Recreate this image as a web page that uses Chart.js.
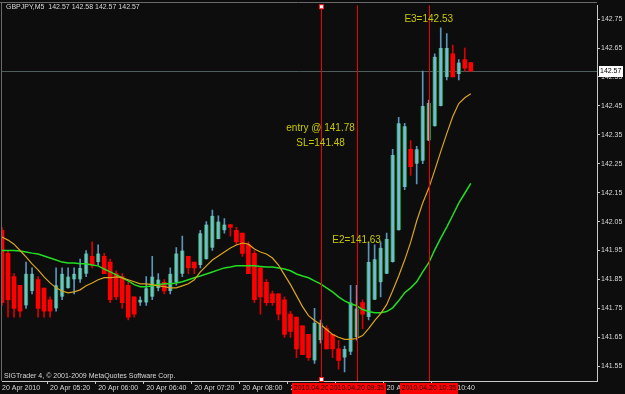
<!DOCTYPE html>
<html lang="en">
<head>
<meta charset="UTF-8">
<title>GBPJPY,M5</title>
<script src="https://cdn.jsdelivr.net/npm/chart.js"></script>
<style>
  html, body { margin: 0; padding: 0; background: #0d0d0d; }
  #wrap { width: 625px; height: 394px; }
</style>
</head>
<body>
<div id="wrap"><canvas id="chart" width="625" height="394"></canvas></div>
<script>
// 5 minute bars, 20 Apr 2010
const times = [
  '04:40','04:45','04:50','04:55',
  '05:00','05:05','05:10','05:15','05:20','05:25','05:30','05:35','05:40','05:45','05:50','05:55',
  '06:00','06:05','06:10','06:15','06:20','06:25','06:30','06:35','06:40','06:45','06:50','06:55',
  '07:00','07:05','07:10','07:15','07:20','07:25','07:30','07:35','07:40','07:45','07:50','07:55',
  '08:00','08:05','08:10','08:15','08:20','08:25','08:30','08:35','08:40','08:45','08:50','08:55',
  '09:00','09:05','09:10','09:15','09:20','09:25','09:30','09:35','09:40','09:45','09:50','09:55',
  '10:00','10:05','10:10','10:15','10:20','10:25','10:30','10:35','10:40','10:45','10:50','10:55',
  '11:00','11:05','11:10'
];

const openP = [
  142.02,141.94,141.86,141.83,141.76,141.81,141.85,141.82,141.78,141.75,
  141.79,141.82,141.85,141.85,141.87,141.93,141.91,141.93,141.91,141.87,
  141.86,141.83,141.79,141.77,141.77,141.79,141.82,141.84,141.81,141.84,
  141.87,141.93,141.91,141.90,141.92,141.96,141.99,142.02,142.04,142.02,
  142.01,141.97,141.94,141.89,141.84,141.80,141.80,141.78,141.73,141.72,
  141.69,141.66,141.57,141.64,141.68,141.66,141.61,141.58,141.60,141.65,
  141.77,141.72,141.78,141.84,141.87,141.91,142.02,142.17,142.30,142.25,
  142.26,142.33,142.38,142.45,142.55,142.63,142.56,142.61,142.60
];
const highP = [
  142.03,141.95,141.87,141.83,141.91,141.89,141.86,141.82,141.79,141.89,
  141.89,141.89,141.89,141.92,141.95,141.98,141.97,141.94,141.92,141.88,
  141.87,141.84,141.79,141.79,141.86,141.93,141.87,141.85,141.89,141.96,
  142.00,141.93,141.91,142.02,142.05,142.09,142.07,142.06,142.04,142.03,
  142.01,141.98,141.95,141.89,141.85,141.81,141.80,141.79,141.74,141.72,
  141.69,141.66,141.75,141.71,141.69,141.66,141.64,141.62,141.83,141.83,
  141.78,141.98,141.97,141.98,142.01,142.30,142.41,142.39,142.33,142.31,
  142.57,142.47,142.63,142.72,142.70,142.66,142.61,142.65,142.60
];
const lowP = [
  141.76,141.72,141.72,141.72,141.75,141.80,141.72,141.72,141.72,141.74,
  141.78,141.82,141.80,141.84,141.86,141.89,141.90,141.87,141.77,141.78,
  141.75,141.71,141.72,141.76,141.76,141.78,141.81,141.80,141.80,141.83,
  141.86,141.87,141.87,141.89,141.92,141.95,141.99,142.01,142.00,141.97,
  141.93,141.87,141.77,141.73,141.76,141.76,141.71,141.65,141.65,141.58,
  141.59,141.57,141.56,141.63,141.61,141.58,141.54,141.53,141.59,141.64,
  141.68,141.71,141.78,141.79,141.87,141.91,142.02,142.16,142.21,142.18,
  142.25,142.33,142.38,142.45,142.54,142.55,142.54,142.57,142.57
];
const closeP = [
  141.77,141.78,141.75,141.74,141.87,141.87,141.75,141.74,141.74,141.83,
  141.87,141.86,141.87,141.89,141.94,141.90,141.94,141.87,141.78,141.79,
  141.77,141.72,141.73,141.78,141.82,141.86,141.85,141.81,141.87,141.94,
  141.95,141.89,141.89,142.01,142.04,142.07,142.05,142.04,142.03,141.98,
  141.94,141.87,141.78,141.79,141.77,141.77,141.73,141.66,141.67,141.61,
  141.59,141.58,141.70,141.70,141.61,141.61,141.57,141.61,141.77,141.75,
  141.73,141.91,141.92,141.96,141.99,142.28,142.39,142.38,142.24,142.30,
  142.45,142.46,142.62,142.65,142.65,142.55,142.60,142.58,142.57
];

// fast (orange) and slow (green) moving averages
const fastMA = [
  141.997,141.986,141.972,141.950,141.928,141.904,141.883,141.859,141.838,141.821,
  141.810,141.804,141.807,141.814,141.828,141.838,141.849,141.856,141.856,141.859,
  141.856,141.849,141.842,141.835,141.835,141.832,141.828,141.825,141.821,141.821,
  141.828,141.835,141.849,141.876,141.897,141.917,141.931,141.945,141.959,141.969,
  141.976,141.972,141.955,141.945,141.938,141.924,141.900,141.866,141.832,141.794,
  141.756,141.725,141.708,141.694,141.677,141.660,141.650,141.643,141.643,141.646,
  141.656,141.680,141.708,141.732,141.763,141.811,141.862,141.917,141.979,142.052,
  142.114,142.165,142.227,142.292,142.354,142.413,142.458,142.478,142.492
];
const slowMA = [
  141.950,141.950,141.950,141.948,141.945,141.941,141.938,141.931,141.924,141.917,
  141.910,141.907,141.907,141.904,141.904,141.900,141.897,141.886,141.876,141.866,
  141.856,141.845,141.832,141.825,141.825,141.828,141.832,141.835,141.835,141.838,
  141.842,141.849,141.856,141.862,141.869,141.876,141.883,141.890,141.893,141.897,
  141.897,141.897,141.897,141.895,141.893,141.893,141.890,141.886,141.880,141.869,
  141.862,141.856,141.845,141.835,141.821,141.807,141.790,141.776,141.766,141.759,
  141.746,141.739,141.735,141.735,141.739,141.752,141.776,141.804,141.821,141.842,
  141.876,141.907,141.952,141.993,142.031,142.072,142.114,142.148,142.182
];

const priceTicks = [141.55,141.65,141.75,141.85,141.95,142.05,142.15,142.25,142.35,142.45,142.55,142.65,142.75];
const axisTimes = ['04:40','05:20','06:00','06:40','07:20','08:00','08:40','09:20','10:00','10:40'];
const axisTexts = ['20 Apr 2010','20 Apr 05:20','20 Apr 06:00','20 Apr 06:40','20 Apr 07:20',
                   '20 Apr 08:00','20 Apr 08:40','20 Apr 09:20','20 Apr 10:00','20 Apr 10:40'];

// vertical lines and their notes
const markerTimes = ['09:05','09:35','10:35'];
const markerTexts = ['2010.04.20 09:05','2010.04.20 09:35','2010.04.20 10:35'];
const notes = [
  { text: 'entry @ 141.78', time: '09:05', price: 142.372 },
  { text: 'SL=141.48',      time: '09:05', price: 142.320 },
  { text: 'E2=141.63',      time: '09:35', price: 141.984 },
  { text: 'E3=142.53',      time: '10:35', price: 142.750 }
];

const FONT = 'Liberation Sans, Arial, sans-serif';
const BULL = '#78b8e0', BULL_EDGE = '#1f8f1f', BULL_WICK = '#5b95ba';
const BEAR = '#ff0000', BEAR_WICK = '#d80000';

const slots = times.concat(Array(21).fill(''));   // empty space right of the last bar
const isBull = openP.map((o, i) => closeP[i] >= o);

const mt4Overlay = {
  id: 'mt4Overlay',
  beforeDraw(chart) {
    const c = chart.ctx;
    c.save();
    c.fillStyle = '#0d0d0d';
    c.fillRect(0, 0, chart.width, chart.height);
    c.restore();
  },
  beforeDatasetsDraw(chart) {
    const { ctx: c, chartArea: a, scales: { y } } = chart;
    const py = Math.round(y.getPixelForValue(closeP[closeP.length - 1])) + 0.5;
    c.save();
    c.strokeStyle = '#4e5c5c';
    c.lineWidth = 1;
    c.beginPath(); c.moveTo(a.left, py); c.lineTo(a.right, py); c.stroke();
    // frame top / left
    c.strokeStyle = '#6a6a6a';
    c.beginPath(); c.moveTo(0, 2.5); c.lineTo(a.right, 2.5); c.stroke();
    c.beginPath(); c.moveTo(1.5, 2); c.lineTo(1.5, a.bottom); c.stroke();
    c.restore();
  },
  afterDatasetsDraw(chart) {
    const { ctx: c, chartArea: a, scales: { x, y } } = chart;
    c.save();
    c.strokeStyle = '#f00000';
    c.lineWidth = 1;
    markerTimes.forEach(t => {
      const px = Math.round(x.getPixelForValue(times.indexOf(t))) + 0.5;
      c.beginPath(); c.moveTo(px, a.top); c.lineTo(px, a.bottom); c.stroke();
    });
    // selection handles on the first line
    const sx = Math.round(x.getPixelForValue(times.indexOf(markerTimes[0])));
    [a.top + 1, a.bottom - 2].forEach(yy => {
      c.fillStyle = '#ff2020';
      c.fillRect(sx - 2, yy - 2, 5, 5);
      c.fillStyle = '#ffffff';
      c.fillRect(sx - 1, yy - 1, 3, 3);
    });
    c.font = '10px ' + FONT;
    c.fillStyle = '#c8c800';
    c.textAlign = 'center';
    c.textBaseline = 'middle';
    notes.forEach(n => {
      c.fillText(n.text, x.getPixelForValue(times.indexOf(n.time)), y.getPixelForValue(n.price));
    });
    c.restore();
  },
  afterDraw(chart) {
    const { ctx: c, chartArea: a, scales: { x, y } } = chart;
    c.save();
    c.font = '7px ' + FONT;
    c.textBaseline = 'middle';
    c.fillStyle = '#d8d8d8';
    c.textAlign = 'left';
    c.fillText('GBPJPY,M5  142.57 142.58 142.57 142.57', 6, 7.5);
    c.fillText('SIGTrader 4, \u00a9 2001-2009 MetaQuotes Software Corp.', 4, 376);
    // current price box
    const last = closeP[closeP.length - 1];
    const py = Math.round(y.getPixelForValue(last));
    c.fillStyle = '#ffffff';
    c.fillRect(a.right + 2, py - 5, 24, 11);
    c.fillStyle = '#000000';
    c.fillText(last.toFixed(2), a.right + 3, py + 0.5);
    // time labels of the vertical lines
    c.textAlign = 'center';
    markerTimes.forEach((t, k) => {
      const px = Math.round(x.getPixelForValue(times.indexOf(t)));
      c.fillStyle = '#ff0000';
      c.fillRect(px - 29, a.bottom + 2, 58, 11);
      c.fillStyle = '#1a0000';
      c.fillText(markerTexts[k], px, a.bottom + 7.5);
    });
    c.restore();
  }
};

new Chart(document.getElementById('chart'), {
  type: 'bar',
  data: {
    labels: slots,
    datasets: [
      {
        type: 'line',
        data: fastMA,
        borderColor: '#daa520',
        borderWidth: 1.2,
        pointRadius: 0,
        tension: 0,
        order: 0
      },
      {
        type: 'line',
        data: slowMA,
        borderColor: '#22dd22',
        borderWidth: 1.5,
        pointRadius: 0,
        tension: 0,
        order: 0
      },
      {
        data: openP.map((o, i) => [o, closeP[i]]),
        backgroundColor: isBull.map(b => b ? BULL : BEAR),
        borderColor: isBull.map(b => b ? BULL_EDGE : BEAR),
        borderWidth: isBull.map(b => b ? { left: 1, right: 1 } : 0),
        borderSkipped: false,
        barThickness: 4,
        minBarLength: 1,
        grouped: false,
        order: 1
      },
      {
        data: lowP.map((l, i) => [l, highP[i]]),
        backgroundColor: isBull.map(b => b ? BULL_WICK : BEAR_WICK),
        barThickness: 1,
        grouped: false,
        order: 2
      }
    ]
  },
  options: {
    responsive: false,
    animation: false,
    layout: { padding: { left: 2, top: 3, right: 0, bottom: 0 } },
    plugins: { legend: { display: false }, tooltip: { enabled: false } },
    scales: {
      x: {
        type: 'category',
        offset: false,
        afterFit: s => { s.height = 13; },
        grid: {
          drawOnChartArea: false,
          tickLength: 3,
          color: ctx => axisTimes.includes(slots[ctx.index]) ? '#c8c8c8' : 'rgba(0,0,0,0)'
        },
        border: { color: '#c8c8c8' },
        ticks: {
          autoSkip: false,
          maxRotation: 0,
          minRotation: 0,
          align: 'start',
          padding: 0,
          color: '#d8d8d8',
          font: { family: FONT, size: 7 },
          callback: (v, i) => {
            const k = axisTimes.indexOf(slots[i]);
            return k >= 0 && i < times.length ? axisTexts[k] : '';
          }
        }
      },
      y: {
        position: 'right',
        min: 141.499,
        max: 142.798,
        afterBuildTicks: s => { s.ticks = priceTicks.map(v => ({ value: v })); },
        afterFit: s => { s.width = 28; },
        grid: { drawOnChartArea: false, tickLength: 3, color: '#c8c8c8' },
        border: { color: '#c8c8c8' },
        ticks: {
          padding: 1,
          color: '#d8d8d8',
          font: { family: FONT, size: 7 },
          callback: v => Number(v).toFixed(2)
        }
      }
    }
  },
  plugins: [mt4Overlay]
});
</script>
</body>
</html>
